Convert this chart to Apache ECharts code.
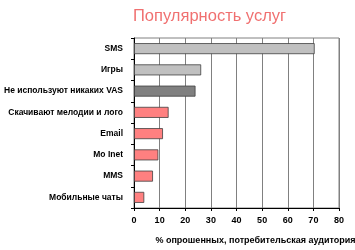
<!DOCTYPE html>
<html><head><meta charset="utf-8">
<script src="https://cdn.jsdelivr.net/npm/echarts@6/dist/echarts.min.js"></script>
<style>html,body{margin:0;padding:0;background:#fff}#c{width:355px;height:250px}</style>
</head><body><div id="c"></div>
<script>
const categories = ["SMS","Игры","Не используют никаких VAS","Скачивают мелодии и лого","Email","Mo Inet","MMS","Мобильные чаты"];
const values = [70.5, 26.2, 24, 13.5, 11.3, 9.5, 7.4, 4];
const barColors = ["#c0c0c0","#c0c0c0","#808080","#ff8080","#ff8080","#ff8080","#ff8080","#ff8080"];
const xTicks = [0,10,20,30,40,50,60,70,80];
const titleText = "Популярность услуг";
const axisName = "% опрошенных, потребительская аудитория";

const chart = echarts.init(document.getElementById('c'));
chart.setOption({
  animation:false,
  title:{text:titleText,left:133,top:8,padding:0,textStyle:{color:'#f07070',fontSize:16.5,fontWeight:'normal',fontFamily:'Liberation Sans'}},
  grid:{left:134,right:16,top:38,bottom:42,show:true,borderColor:'#808080',borderWidth:1,outerBoundsMode:'none',containLabel:false},
  xAxis:{type:'value',min:xTicks[0],max:xTicks[xTicks.length-1],interval:10,
    axisLine:{show:true,lineStyle:{color:'#000'}},
    axisTick:{show:true,length:3,lineStyle:{color:'#000'}},
    axisLabel:{color:'#000',fontSize:9,fontWeight:'bold',fontFamily:'Liberation Sans',margin:8},
    splitLine:{show:true,lineStyle:{color:'#808080',width:1}},
    name:axisName,nameLocation:'middle',nameGap:28,
    nameTextStyle:{color:'#000',fontSize:9,fontWeight:'bold',fontFamily:'Liberation Sans',padding:[0,0,0,38]}},
  yAxis:{type:'category',data:categories,inverse:true,
    axisLine:{show:true,lineStyle:{color:'#000'}},
    axisTick:{show:true,length:3,lineStyle:{color:'#000'}},
    axisLabel:{color:'#000',fontSize:8.5,fontWeight:'bold',fontFamily:'Liberation Sans',margin:11}},
  series:[{type:'bar',barWidth:11,
    data:values.map((v,i)=>({value:v,itemStyle:{color:barColors[i]}})),
    itemStyle:{borderColor:'#404040',borderWidth:0.8}}]
});
</script></body></html>
